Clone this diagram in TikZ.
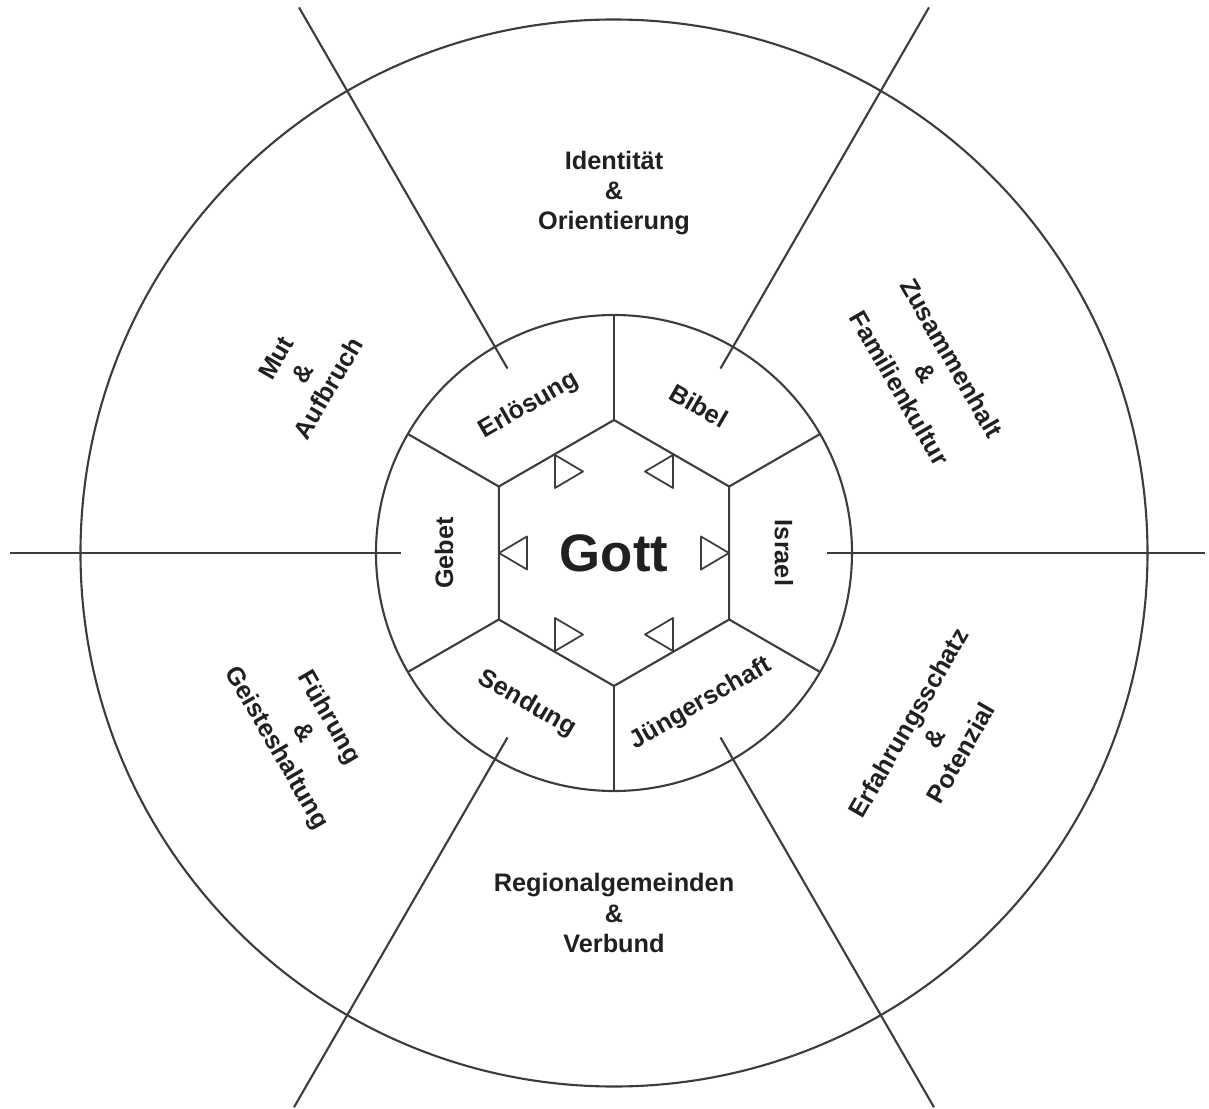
\documentclass[tikz,border=0pt]{standalone}
\usepackage{fontspec}
\setmainfont{Liberation Sans}
\definecolor{linegray}{RGB}{60,60,60}
\definecolor{inkblack}{RGB}{35,31,32}

\begin{document}
\begin{tikzpicture}[
    line/.style={draw=linegray, line width=0.6pt},
    pointer/.style={draw=linegray, line width=0.5pt, line join=round},
    topic/.style={font=\fontsize{7.2}{8.6}\selectfont\bfseries, text=inkblack, align=center, inner sep=0pt},
  ]
      % Define the radii
      \def\OuterRadius{5.335}
      \def\InnerRadius{2.38}
      \def\HexRadius{1.33}
      \def\SpokeStart{2.13}
      \def\SpokeEnd{6.3}
      \def\InnerLabel{1.7}
      \def\OuterLabel{3.6}

      \useasboundingbox (-6.14,-5.55) rectangle (5.95,5.53);

      % Hexagon corners
      \coordinate (H30) at (30:\HexRadius);
      \coordinate (H90) at (90:\HexRadius);
      \coordinate (H150) at (150:\HexRadius);
      \coordinate (H210) at (210:\HexRadius);
      \coordinate (H270) at (270:\HexRadius);
      \coordinate (H330) at (330:\HexRadius);

      % Draw the circles and the hexagon
      \draw[line] (0,0) circle (\OuterRadius);
      \draw[line] (0,0) circle (\InnerRadius);
      \draw[line] (H30) -- (H90) -- (H150) -- (H210) -- (H270) -- (H330) -- cycle;

      % Spokes of the inner ring
      \draw[line] (H30) -- (30:\InnerRadius);
      \draw[line] (H90) -- (90:\InnerRadius);
      \draw[line] (H150) -- (150:\InnerRadius);
      \draw[line] (H210) -- (210:\InnerRadius);
      \draw[line] (H270) -- (270:\InnerRadius);
      \draw[line] (H330) -- (330:\InnerRadius);

      % Spokes of the outer ring
      \draw[line] (0:\SpokeStart) -- (0:5.91);
      \draw[line] (60:\SpokeStart) -- (60:\SpokeEnd);
      \draw[line] (120:\SpokeStart) -- (120:\SpokeEnd);
      \draw[line] (180:\SpokeStart) -- (180:6.04);
      \draw[line] (240:\SpokeStart) -- (240:6.4);
      \draw[line] (300:\SpokeStart) -- (300:6.4);

      % Small triangles inside the hexagon
      \draw[pointer] (-0.59,0.98) -- (-0.59,0.65) -- (-0.31,0.815) -- cycle;
      \draw[pointer] (0.59,0.98) -- (0.59,0.65) -- (0.31,0.815) -- cycle;
      \draw[pointer] (-0.87,0.165) -- (-0.87,-0.165) -- (-1.15,0) -- cycle;
      \draw[pointer] (0.87,0.165) -- (0.87,-0.165) -- (1.15,0) -- cycle;
      \draw[pointer] (-0.59,-0.98) -- (-0.59,-0.65) -- (-0.31,-0.815) -- cycle;
      \draw[pointer] (0.59,-0.98) -- (0.59,-0.65) -- (0.31,-0.815) -- cycle;

      % Centre
      \node[topic, font=\fontsize{15}{18}\selectfont\bfseries] (gott) at (0,0) {Gott};

      % Inner ring
      \node[topic, rotate=30] (erloesung) at (120:\InnerLabel) {Erlösung};
      \node[topic, rotate=-30] (bibel) at (60:\InnerLabel) {Bibel};
      \node[topic, rotate=-90] (israel) at (0:\InnerLabel) {Israel};
      \node[topic, rotate=30] (juenger) at (300:1.74) {Jüngerschaft};
      \node[topic, rotate=-30] (sendung) at (240:1.74) {Sendung};
      \node[topic, rotate=90] (gebet) at (180:\InnerLabel) {Gebet};

      % Outer ring
      \node[topic] (identitaet) at (90:\OuterLabel) {Identität\\\&\\Orientierung};
      \node[topic, rotate=-60] (zusammenhalt) at (30:\OuterLabel) {Zusammenhalt\\\&\\Familienkultur};
      \node[topic, rotate=60] (erfahrung) at (330:3.7) {Erfahrungsschatz\\\&\\Potenzial};
      \node[topic] (regional) at (270:\OuterLabel) {Regionalgemeinden\\\&\\Verbund};
      \node[topic, rotate=-60] (fuehrung) at (210:\OuterLabel) {Führung\\\&\\Geisteshaltung};
      \node[topic, rotate=60] (mut) at (150:\OuterLabel) {Mut\\\&\\Aufbruch};
    \end{tikzpicture}
\end{document}
